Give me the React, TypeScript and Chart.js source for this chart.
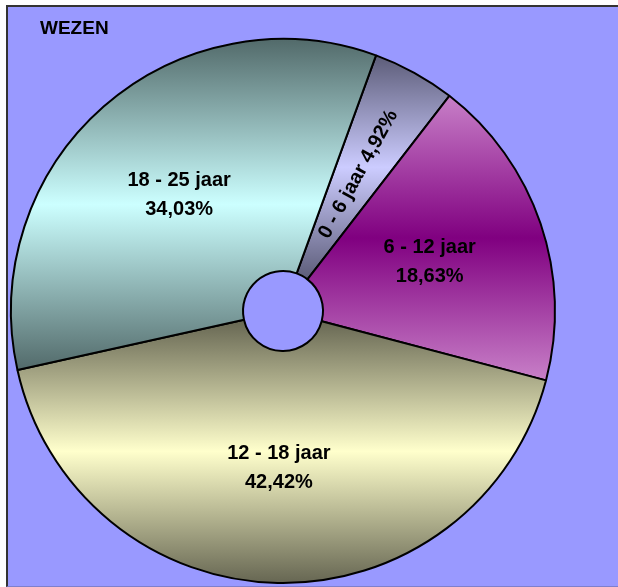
import React, { useEffect, useRef } from "react";
import { Chart, registerables } from "chart.js";

Chart.register(...registerables);

const categories = ["0 - 6 jaar", "6 - 12 jaar", "12 - 18 jaar", "18 - 25 jaar"];
const shares = [4.92, 18.63, 42.42, 34.03];
const shareLabels = ["4,92%", "18,63%", "42,42%", "34,03%"];
const chartTitle = "WEZEN";

// gradient colours per slice: [edge, centre, edge]
const sliceGradients = [
  ["#5c5c78", "#ccccff", "#5c5c78"],
  ["#c880c8", "#800080", "#c880c8"],
  ["#666652", "#ffffcc", "#666652"],
  ["#526a6a", "#ccffff", "#526a6a"],
];

const ROTATION_DEG = 20;
const CUTOUT = 0.147;
const FONT = '"Liberation Sans", Arial, sans-serif';

function sliceYExtent(start: number, end: number, rIn: number, rOut: number) {
  const ys = [
    Math.sin(start) * rOut,
    Math.sin(end) * rOut,
    Math.sin(start) * rIn,
    Math.sin(end) * rIn,
  ];
  const within = (a: number) => {
    for (let k = -2; k <= 2; k++) {
      const v = a + 2 * Math.PI * k;
      if (v >= start && v <= end) return true;
    }
    return false;
  };
  if (within(Math.PI / 2)) ys.push(rOut);
  if (within(-Math.PI / 2)) ys.push(-rOut);
  return [Math.min(...ys), Math.max(...ys)];
}

const labelPlugin = {
  id: "sliceLabels",
  afterDatasetsDraw(chart: any) {
    const ctx = chart.ctx as CanvasRenderingContext2D;
    const meta = chart.getDatasetMeta(0);
    ctx.save();
    ctx.fillStyle = "#000";
    ctx.font = `bold 20px ${FONT}`;
    ctx.textAlign = "center";
    ctx.textBaseline = "middle";
    meta.data.forEach((arc: any, i: number) => {
      const p = arc.getCenterPoint();
      if (i === 0) {
        const mid = (arc.startAngle + arc.endAngle) / 2;
        ctx.save();
        ctx.translate(p.x, p.y);
        ctx.rotate(mid);
        ctx.fillText(`${categories[i]} ${shareLabels[i]}`, 0, 0);
        ctx.restore();
      } else {
        ctx.fillText(categories[i], p.x - 1, p.y - 13);
        ctx.fillText(shareLabels[i], p.x - 1, p.y + 16);
      }
    });
    ctx.textAlign = "left";
    ctx.textBaseline = "alphabetic";
    ctx.font = `bold 19px ${FONT}`;
    ctx.fillText(chartTitle, 40, 34);
    ctx.restore();
  },
};

export default function App() {
  const ref = useRef<HTMLCanvasElement | null>(null);

  useEffect(() => {
    if (!ref.current) return;
    const total = shares.reduce((a, b) => a + b, 0);
    const bg = (c: any) => {
      const chart = c.chart;
      const area = chart.chartArea;
      const i = c.dataIndex;
      const stops = sliceGradients[i];
      if (!area || i === undefined) return stops[1];
      const cy = (area.top + area.bottom) / 2;
      const rOut = (Math.min(area.width, area.height) - 2) / 2;
      const rIn = rOut * CUTOUT;
      let acc = 0;
      for (let k = 0; k < i; k++) acc += shares[k];
      const base = -Math.PI / 2 + (ROTATION_DEG * Math.PI) / 180;
      const start = base + (acc / total) * 2 * Math.PI;
      const end = start + (shares[i] / total) * 2 * Math.PI;
      const [y0, y1] = sliceYExtent(start, end, rIn, rOut);
      const g = chart.ctx.createLinearGradient(0, cy + y0, 0, cy + y1);
      g.addColorStop(0, stops[0]);
      g.addColorStop(0.5, stops[1]);
      g.addColorStop(1, stops[2]);
      return g;
    };
    const chart = new Chart(ref.current, {
      type: "doughnut",
      data: {
        labels: categories,
        datasets: [
          {
            data: shares,
            backgroundColor: bg,
            borderColor: "#000",
            borderWidth: 2,
          },
        ],
      },
      options: {
        responsive: false,
        animation: false,
        devicePixelRatio: 1,
        rotation: ROTATION_DEG,
        cutout: `${CUTOUT * 100}%`,
        layout: { padding: { left: 10, top: 38, right: 62, bottom: 3 } },
        plugins: {
          legend: { display: false },
          tooltip: { enabled: false },
          title: { display: false },
        },
      },
      plugins: [labelPlugin],
    });
    return () => chart.destroy();
  }, []);

  return (
    <div
      style={{
        position: "absolute",
        left: 0,
        top: 0,
        width: 618,
        height: 587,
        background: "#ffffff",
        overflow: "hidden",
      }}
    >
      <div
        style={{
          position: "absolute",
          left: 6,
          top: 5,
          right: 0,
          bottom: 0,
          background: "#9999ff",
          borderLeft: "2px solid #333",
          borderTop: "2px solid #333",
          borderBottom: "1px solid #7f7fcc",
          boxSizing: "border-box",
        }}
      />
      <canvas
        ref={ref}
        width={618}
        height={587}
        style={{ position: "absolute", left: 0, top: 0, width: 618, height: 587 }}
      />
    </div>
  );
}
